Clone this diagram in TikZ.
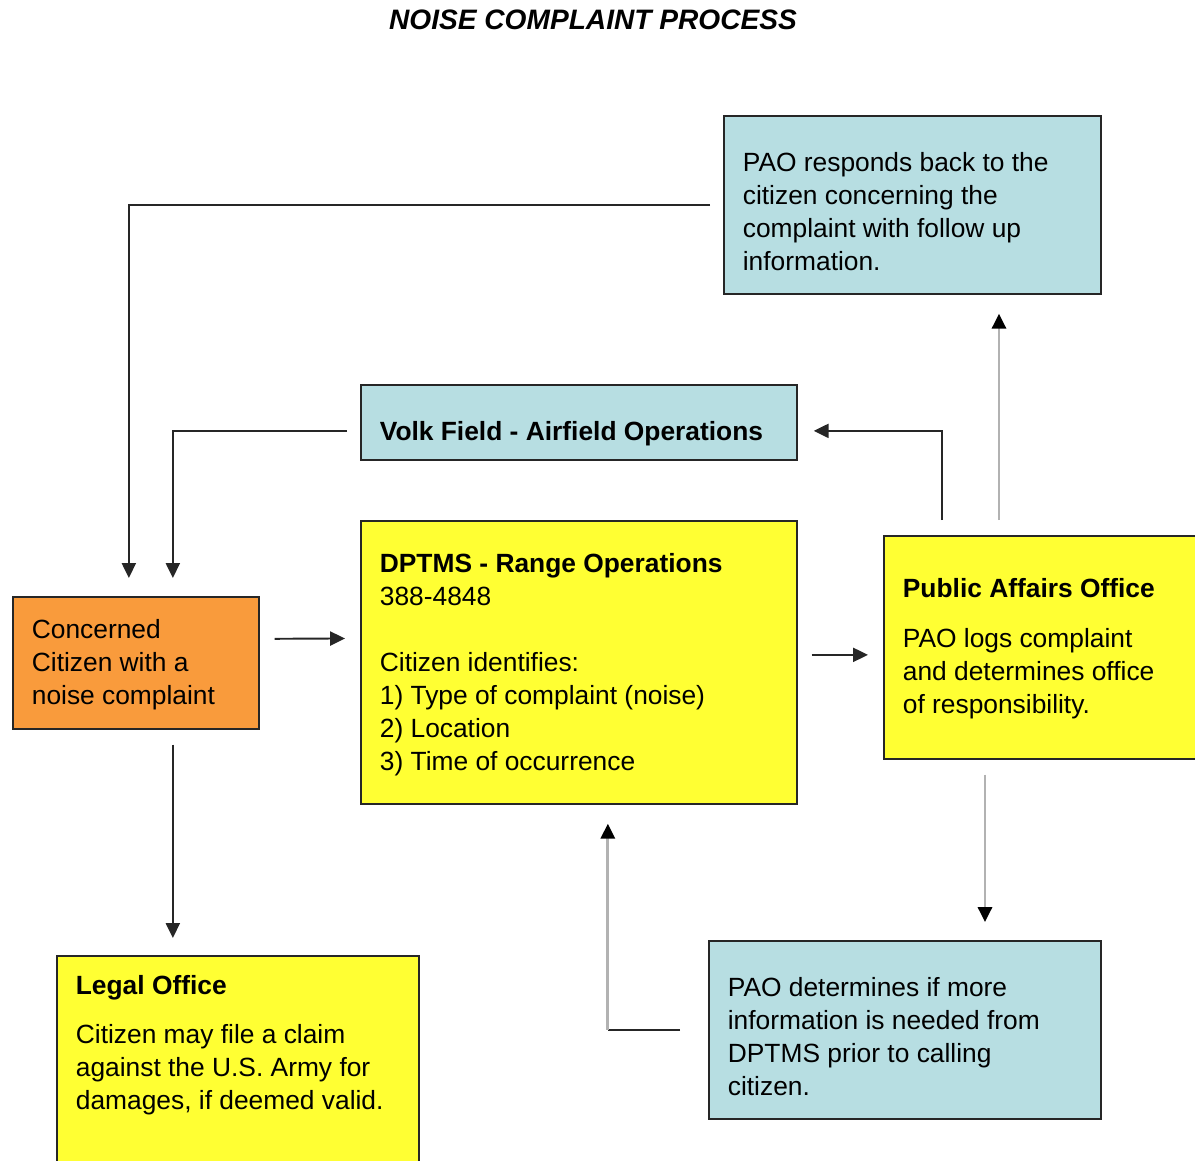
\documentclass[tikz,border=0pt]{standalone}
\usepackage{fontspec}
\setmainfont{Liberation Sans}
\usetikzlibrary{arrows.meta}
\definecolor{paoblue}{HTML}{B7DEE2}
\definecolor{boxyellow}{HTML}{FFFF33}
\definecolor{citorange}{HTML}{F99B3C}
\newcommand{\boxtext}[4]{\parbox[c][#1][t]{#2}{\raggedright\vspace*{#3}\strut #4}}

\begin{document}
\begin{tikzpicture}[x=0.02cm, y=-0.02cm,
    box/.style={draw=black!85, line width=1pt, anchor=north west, inner xsep=0.38cm, inner ysep=0pt, font=\fontsize{15}{18.7}\selectfont},
    link/.style={-{Triangle[length=8.5pt,width=8pt]}, line width=1.1pt, black!85},
    glink/.style={-{Triangle[length=8.5pt,width=8pt,color=black]}, line width=1.7pt, black!30}]
            \useasboundingbox (0,0) rectangle (1195,1160);
            \node[font=\fontsize{16}{19}\selectfont\bfseries\itshape] (title) at (593,20) {NOISE COMPLAINT PROCESS};
            \node[box, fill=paoblue] (resp) at (723,115) {\boxtext{3.56cm}{6.78cm}{0.66cm}{PAO responds back to the\\citizen concerning the\\complaint with follow up\\information.}};
            \node[box, fill=paoblue] (volk) at (360,384) {\boxtext{1.5cm}{7.96cm}{0.66cm}{\textbf{Volk Field - Airfield Operations}}};
            \node[box, fill=boxyellow] (dptms) at (360,520) {\boxtext{5.66cm}{7.96cm}{0.58cm}{\textbf{DPTMS - Range Operations}\\388-4848\\[\baselineskip]Citizen identifies:\\1) Type of complaint (noise)\\2) Location\\3) Time of occurrence}};
            \node[box, fill=boxyellow] (pao) at (883,535) {\boxtext{4.46cm}{6.04cm}{0.78cm}{\textbf{Public Affairs Office}\\[0.34cm]PAO logs complaint\\and determines office\\of responsibility.}};
            \node[box, fill=citorange] (cit) at (12,596) {\boxtext{2.64cm}{4.16cm}{0.38cm}{Concerned\\Citizen with a\\noise complaint}};
            \node[box, fill=boxyellow] (legal) at (56,955) {\boxtext{4.8cm}{6.48cm}{0.32cm}{\textbf{Legal Office}\\[0.32cm]Citizen may file a claim\\against the U.S. Army for\\damages, if deemed valid.}};
            \node[box, fill=paoblue] (det) at (708,940) {\boxtext{3.56cm}{7.08cm}{0.66cm}{PAO determines if more\\information is needed from\\DPTMS prior to calling\\citizen.}};
            % bends and free ends
            \coordinate (dp) at ([yshift=0.15cm]dptms.east);
            \coordinate (pv) at ([xshift=1.18cm]pao.north west);
            \coordinate (pr) at ([xshift=2.32cm]pao.north west);
            \coordinate (pd) at ([xshift=2.04cm]pao.south west);
            \coordinate (bend) at ([xshift=0.58cm]dptms.south |- det.west);
            \draw[link, shorten <=0.26cm, shorten >=0.36cm] (resp.west) -| ([xshift=-0.14cm]cit.north);
            \draw[link, shorten <=0.26cm, shorten >=0.36cm] ([yshift=-0.17cm]volk.west) -| ([xshift=0.74cm]cit.north);
            \draw[link, shorten <=0.3cm, shorten >=0.3cm] ([yshift=0.48cm]cit.east) -- ([yshift=0.48cm]dptms.west);
            \draw[link, shorten <=0.3cm, shorten >=0.34cm] ([xshift=0.74cm]cit.south) -- ([xshift=0.74cm]cit.south |- legal.north);
            \draw[link, shorten <=0.28cm, shorten >=0.3cm] (dp) -- (dp -| pao.west);
            \draw[link, shorten <=0.3cm, shorten >=0.32cm] (pv) |- ([yshift=-0.17cm]volk.east);
            \draw[glink, shorten <=0.3cm, shorten >=0.38cm] (pr) -- (pr |- resp.south);
            \draw[glink, shorten <=0.3cm, shorten >=0.36cm] (pd) -- (pd |- det.north);
            \draw[line width=1.1pt, black!85, shorten <=0.56cm] (det.west) -- (bend);
            \draw[glink, shorten >=0.38cm] (bend) -- (bend |- dptms.south);
        \end{tikzpicture}
\end{document}
